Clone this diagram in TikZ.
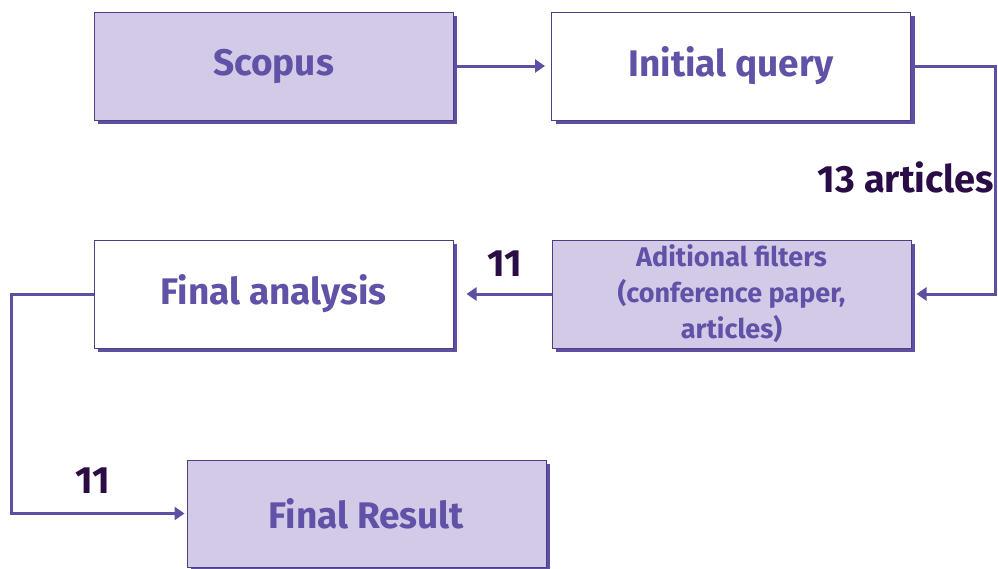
\documentclass[tikz,border=0pt]{standalone}
\usepackage{fontspec}
\setmainfont{Fira Sans}
\usetikzlibrary{shadows,arrows.meta}
\definecolor{lav}{HTML}{D3CAE8}
\definecolor{edge}{HTML}{4F3F80}
\definecolor{shade}{HTML}{5E4FA2}
\definecolor{ink}{HTML}{6152A7}
\definecolor{dark}{HTML}{2A0D47}
\tikzset{
  box/.style={draw=edge, line width=1pt, minimum width=359pt, minimum height=108pt,
    text=ink, font=\bfseries\fontsize{37}{40}\selectfont, align=center,
    drop shadow={shadow xshift=4pt, shadow yshift=-4pt, fill=shade, opacity=1}},
  link/.style={draw=shade, line width=3pt, -{Triangle[length=10pt,width=13pt]}},
  count/.style={text=dark, font=\bfseries\fontsize{38}{40}\selectfont}
}
\begin{document}
\begin{tikzpicture}[x=1pt,y=-1pt]
            \useasboundingbox (0,0) rectangle (998,568);
            \node[box, fill=lav] (scopus) at (273.5,66) {Scopus};
            \node[box, fill=white] (query) at (731,66) {Initial query};
            \node[box, fill=lav, font=\bfseries\fontsize{27}{36}\selectfont] (filters) at (731.5,294)
                {Aditional filters\\(conference paper,\\articles)};
            \node[box, fill=white] (analysis) at (273.5,294) {Final analysis};
            \node[box, fill=lav, minimum height=107pt] (result) at (366.5,513.5) {Final Result};
            \node[count] (n13) at (906,177) {13 articles};
            \node[count] (n11a) at (505,264) {11};
            \node[count] (n11b) at (93,481) {11};
            \draw[link, shorten <=3pt, shorten >=6pt] (scopus) -- (query);
            \draw[link, shorten <=3pt, shorten >=5pt] (query.east) -- ++(84,0) |- (filters.east);
            \draw[link, shorten >=13pt] (filters) -- (analysis);
            \draw[link, shorten >=2pt] (analysis.west) -- ++(-82,0) |- (result.west);
        \end{tikzpicture}
\end{document}
